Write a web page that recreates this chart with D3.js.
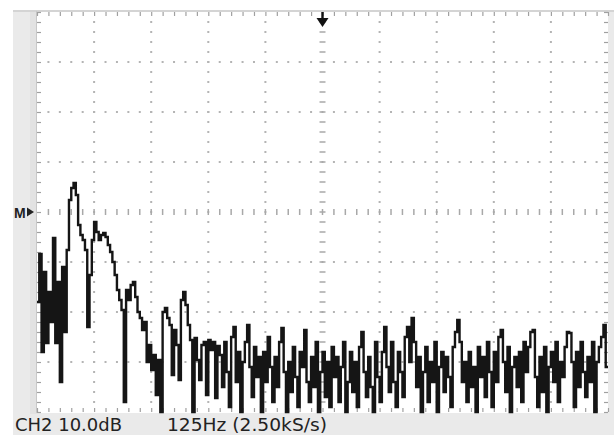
<!DOCTYPE html>
<html>
<head>
<meta charset="utf-8">
<script src="https://cdn.jsdelivr.net/npm/d3@7"></script>
<style>
  html, body { margin: 0; padding: 0; background: #fff; }
  svg { display: block; }
</style>
</head>
<body>
<svg id="scope" width="614" height="435"></svg>
<script>
// FFT display: 10 horizontal divisions of 125 Hz, 8 vertical divisions of 10 dB
const spanHz = 1250;
const binHz = 5;
const dbRange = [-80, 0];
const refLevelDb = -40;
const channelLabel = "CH2 10.0dB";
const spanLabel = "125Hz (2.50kS/s)";

// Magnitude per 5 Hz bin, dB
const spectrumDb = [
  -58, -48.4, -68, -52, -66.2, -56, -62, -45.2, -66.2, -54,
  -74, -51, -64, -47.6, -37.6, -35.2, -34.2, -36.6, -42.6, -44.6,
  -45.6, -47.6, -63, -52.6, -45.6, -42, -44, -45.6, -44.6, -44.2,
  -45, -46.6, -48, -50, -52.6, -55.6, -57.6, -59.6, -78, -55.6,
  -57.6, -54.6, -54, -57, -60, -61.2, -63.6, -62, -70, -66.6,
  -71.6, -68.6, -76.6, -69.6, -80, -60, -59.2, -61.2, -62.6, -72.6,
  -63.6, -66.6, -73.6, -57.6, -56, -58.6, -62.6, -65.6, -80, -65.2,
  -69.6, -73.6, -66.6, -66, -76.6, -65.6, -67.6, -66, -77.2, -66.8,
  -68.6, -75, -66, -72, -79, -65, -63, -74, -68, -80,
  -70, -66, -62.6, -71, -77, -67, -73, -69, -80, -68,
  -74, -65, -71, -78, -69, -75, -66, -63.2, -72, -80,
  -70, -76, -67, -73, -79, -68, -71, -63.6, -74, -78,
  -69, -75, -66, -80, -72, -68, -77, -70, -79, -67,
  -73, -69, -78, -71, -66, -80, -74, -68, -76, -70,
  -79, -67, -64, -72, -77, -69, -75, -80, -66, -73,
  -78, -68, -63, -71, -76, -66, -74, -79, -68, -72,
  -77, -65, -63, -70, -61.2, -66, -75, -69, -80, -72,
  -67, -78, -70, -74, -66, -80, -71, -68, -76, -69,
  -73, -79, -67, -64, -61.6, -66, -74, -70, -78, -68,
  -75, -71, -80, -67, -73, -69, -77, -66, -72, -79,
  -68, -74, -65, -63.6, -70, -76, -67, -80, -71, -69,
  -75, -68, -78, -66, -72, -67, -64, -63.6, -73, -79,
  -69, -76, -67, -80, -71, -68, -74, -66, -78, -70,
  -73, -67, -64, -64.2, -70, -79, -68, -75, -66, -72,
  -77, -69, -74, -66, -80, -70, -67, -65, -62.6, -71
];

const majorHz = d3.range(0, spanHz + 1, 125);
const minorHz = d3.range(0, spanHz + 1, 25);
const majorDb = d3.range(dbRange[0], dbRange[1] + 1, 10);
const minorDb = d3.range(dbRange[0], dbRange[1] + 1, 2);

const svg = d3.select("#scope");
const plot = { left: 37, right: 608, top: 12, bottom: 412 };

const x = d3.scaleLinear().domain([0, spanHz]).range([plot.left, plot.right]);
const y = d3.scaleLinear().domain(dbRange).range([plot.bottom, plot.top]);

// bezel and screen
svg.append("rect").attr("x", 13).attr("y", 10).attr("width", 601).attr("height", 425).attr("fill", "#eaeaea");
svg.append("rect").attr("x", 30).attr("y", 10).attr("width", 7).attr("height", 404).attr("fill", "#e2e2e2");
svg.append("rect").attr("x", plot.left).attr("y", plot.top)
  .attr("width", plot.right - plot.left).attr("height", plot.bottom - plot.top + 1)
  .attr("fill", "#fff");
svg.append("line").attr("x1", 13).attr("x2", 614).attr("y1", 11).attr("y2", 11)
  .attr("stroke", "#d4d4d4").attr("stroke-width", 2);
svg.append("line").attr("x1", plot.left - 0.5).attr("x2", plot.left - 0.5)
  .attr("y1", 11).attr("y2", 413).attr("stroke", "#c8c8c8");

// graticule dots on the major lines
const grid = svg.append("g").attr("fill", "#b4b4b4");
majorHz.filter(f => f > 0 && f < spanHz && f !== spanHz / 2).forEach(f => {
  grid.selectAll(null).data(minorDb.filter(d => d > dbRange[0] && d < dbRange[1]))
    .join("rect")
    .attr("x", x(f) - 1).attr("y", d => y(d) - 1)
    .attr("width", 2).attr("height", 2);
});
majorDb.filter(d => d > dbRange[0] && d < dbRange[1] && d !== refLevelDb).forEach(d => {
  grid.selectAll(null).data(minorHz.filter(f => f > 0 && f < spanHz))
    .join("rect")
    .attr("x", f => x(f) - 1).attr("y", y(d) - 1)
    .attr("width", 2).attr("height", 2);
});

// centre cross with minor ticks
const centre = svg.append("g").attr("stroke", "#a8a8a8").attr("stroke-width", 1.5);
centre.selectAll(null).data(minorDb.filter(d => d > dbRange[0] && d < dbRange[1]))
  .join("line")
  .attr("x1", x(spanHz / 2) - 3).attr("x2", x(spanHz / 2) + 3)
  .attr("y1", d => y(d)).attr("y2", d => y(d));
centre.selectAll(null).data(minorHz.filter(f => f > 0 && f < spanHz))
  .join("line")
  .attr("x1", f => x(f)).attr("x2", f => x(f))
  .attr("y1", y(refLevelDb) - 3).attr("y2", y(refLevelDb) + 3);

// border ticks drawn with axes, no labels
function frameAxis(axis, transform) {
  const g = svg.append("g").attr("transform", transform).call(axis);
  g.select(".domain").remove();
  g.selectAll(".tick line").attr("stroke", "#a0a0a0").attr("stroke-width", 1.2);
  g.selectAll("text").remove();
}
frameAxis(d3.axisBottom(x).tickValues(minorHz).tickSize(4).tickFormat(""), `translate(0,${plot.top})`);
frameAxis(d3.axisTop(x).tickValues(minorHz).tickSize(4).tickFormat(""), `translate(0,${plot.bottom})`);
frameAxis(d3.axisRight(y).tickValues(minorDb).tickSize(4).tickFormat(""), `translate(${plot.left},0)`);
frameAxis(d3.axisLeft(y).tickValues(minorDb).tickSize(4).tickFormat(""), `translate(${plot.right},0)`);

// spectrum trace
const bins = spectrumDb.map((v, i) => ({ f: i * binHz, v }));
const line = d3.line()
  .x(d => x(d.f))
  .y(d => y(Math.max(dbRange[0], d.v)))
  .curve(d3.curveStepAfter);
const last = bins[bins.length - 1];
svg.append("path")
  .datum(bins.concat([{ f: Math.min(spanHz, last.f + binHz), v: last.v }]))
  .attr("d", line)
  .attr("fill", "none")
  .attr("stroke", "#151515")
  .attr("stroke-width", 2.4)
  .attr("stroke-linejoin", "miter");

// trigger position arrow
const ax = x(spanHz / 2);
svg.append("rect").attr("x", ax - 1.2).attr("y", plot.top).attr("width", 2.4).attr("height", 8).attr("fill", "#111");
svg.append("path")
  .attr("d", `M${ax - 6},${plot.top + 6} L${ax + 6},${plot.top + 6} L${ax},${plot.top + 15} Z`)
  .attr("fill", "#111");

// reference level marker
const my = y(refLevelDb);
svg.append("text").attr("x", 14).attr("y", my + 5.5)
  .attr("font-family", "Liberation Sans, Arial, sans-serif").attr("font-size", 14)
  .attr("font-weight", "bold").attr("fill", "#222").text("M");
svg.append("path")
  .attr("d", `M27,${my - 4.5} L34,${my} L27,${my + 4.5} Z`)
  .attr("fill", "#222");

// readout line
svg.append("text").attr("x", 15).attr("y", 431)
  .attr("font-family", "DejaVu Sans, sans-serif").attr("font-size", 17)
  .attr("fill", "#222").attr("textLength", 107).attr("lengthAdjust", "spacingAndGlyphs")
  .text(channelLabel);
svg.append("text").attr("x", 167).attr("y", 431)
  .attr("font-family", "DejaVu Sans, sans-serif").attr("font-size", 17)
  .attr("fill", "#222").attr("textLength", 160).attr("lengthAdjust", "spacingAndGlyphs")
  .text(spanLabel);
</script>
</body>
</html>
